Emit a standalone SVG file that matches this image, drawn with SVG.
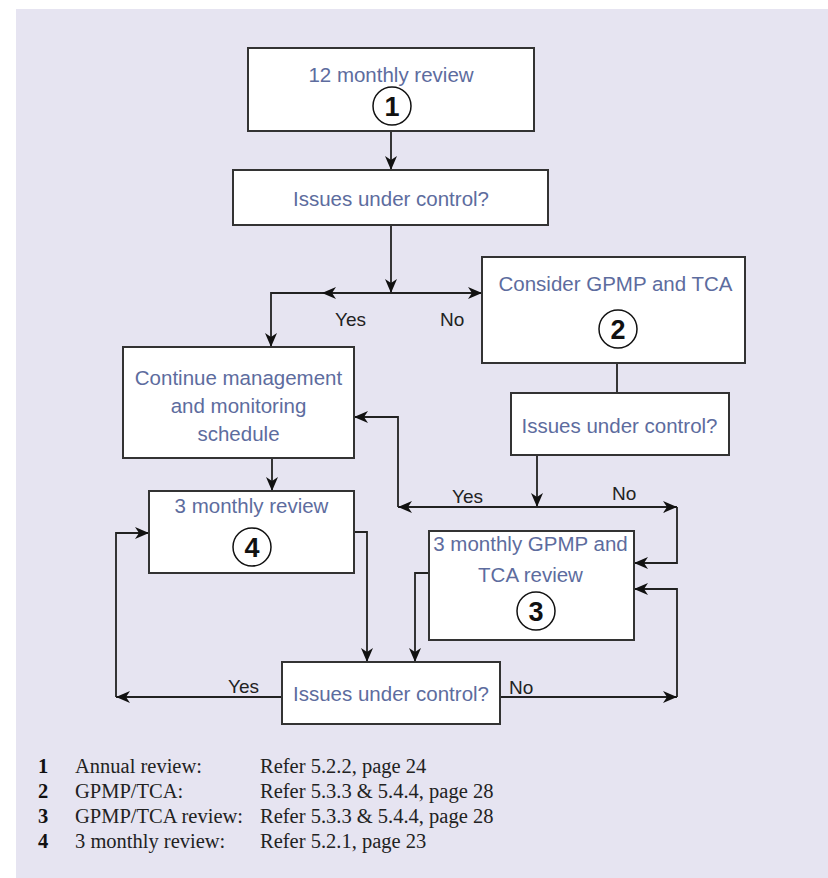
<svg xmlns="http://www.w3.org/2000/svg" width="828" height="878" viewBox="0 0 828 878">
<defs>
<style>
.box{fill:#fff;stroke:#333;stroke-width:2}
.t{font-family:"Liberation Sans",Arial,sans-serif;font-size:20.5px;fill:#5d6c9e;text-anchor:middle}
.num{font-family:"Liberation Sans",Arial,sans-serif;font-size:27px;font-weight:bold;fill:#111;text-anchor:middle}
.circ{fill:#fff;stroke:#111;stroke-width:1.5}
.lbl{font-family:"Liberation Sans",Arial,sans-serif;font-size:19px;fill:#222}
.c{fill:none;stroke:#222;stroke-width:1.8}
.a{fill:none;stroke:#222;stroke-width:1.8;marker-end:url(#ah)}
.lg{font-family:"Liberation Serif","Times New Roman",serif;font-size:20.5px;fill:#222}
.lgn{font-family:"Liberation Serif","Times New Roman",serif;font-size:20.5px;font-weight:bold;fill:#111}
</style>
<marker id="ah" markerUnits="userSpaceOnUse" markerWidth="16" markerHeight="14" refX="14" refY="6" orient="auto" viewBox="0 0 16 12">
<path d="M0,0 L14,6 L0,12 L4,6 z" fill="#111"/>
</marker>
</defs>
<rect x="16" y="9" width="812" height="869" fill="#e6e4f1"/>

<g id="connectors">
<path class="a" d="M391,131 V170"/>
<path class="a" d="M391,225 V293"/>
<path class="a" d="M391,293 H322"/>
<path class="a" d="M322,293 H271 V347"/>
<path class="a" d="M391,293 H482"/>
<path class="c" d="M617,363 V393"/>
<path class="a" d="M537,455 V507"/>
<path class="a" d="M537,507 H398"/>
<path class="a" d="M398,507 V417 H354"/>
<path class="a" d="M537,507 H677"/>
<path class="a" d="M677,507 V563 H634"/>
<path class="a" d="M272,458 V491"/>
<path class="a" d="M354,532 H367 V662"/>
<path class="a" d="M429,573 H415 V662"/>
<path class="a" d="M282,697 H116"/>
<path class="a" d="M116,697 V533 H149"/>
<path class="a" d="M500,697 H677"/>
<path class="a" d="M677,697 V589 H634"/>
<text class="lbl" x="335" y="326">Yes</text>
<text class="lbl" x="440" y="326">No</text>
<text class="lbl" x="452" y="503">Yes</text>
<text class="lbl" x="612" y="500">No</text>
<text class="lbl" x="228" y="693">Yes</text>
<text class="lbl" x="509" y="694">No</text>
</g>

<g id="n1">
<rect class="box" x="248" y="48" width="286" height="83"/>
<text class="t" x="391" y="82">12 monthly review</text>
<circle class="circ" cx="392" cy="106" r="19"/>
<text class="num" x="392" y="116">1</text>
</g>

<g id="n2">
<rect class="box" x="233" y="170" width="315" height="55"/>
<text class="t" x="391" y="206">Issues under control?</text>
</g>

<g id="n3">
<rect class="box" x="482" y="257" width="263" height="106"/>
<text class="t" x="615.5" y="291">Consider GPMP and TCA</text>
<circle class="circ" cx="618" cy="329" r="19"/>
<text class="num" x="618" y="339">2</text>
</g>

<g id="n4">
<rect class="box" x="123" y="347" width="231" height="111"/>
<text class="t" x="238.5" y="385">Continue management</text>
<text class="t" x="238.5" y="413">and monitoring</text>
<text class="t" x="238.5" y="441">schedule</text>
</g>

<g id="n5">
<rect class="box" x="511" y="393" width="218" height="62"/>
<text class="t" x="619.5" y="433">Issues under control?</text>
</g>

<g id="n6">
<rect class="box" x="149" y="491" width="205" height="82"/>
<text class="t" x="251.5" y="513">3 monthly review</text>
<circle class="circ" cx="252" cy="547" r="19"/>
<text class="num" x="252" y="557">4</text>
</g>

<g id="n7">
<rect class="box" x="429" y="531" width="205" height="109"/>
<text class="t" x="530.5" y="551">3 monthly GPMP and</text>
<text class="t" x="530.5" y="582">TCA review</text>
<circle class="circ" cx="536" cy="611" r="19"/>
<text class="num" x="536" y="621">3</text>
</g>

<g id="n8">
<rect class="box" x="282" y="662" width="218" height="62"/>
<text class="t" x="391" y="701">Issues under control?</text>
</g>

<g id="legend">
<text class="lgn" x="38" y="773">1</text>
<text class="lg" x="75" y="773">Annual review:</text>
<text class="lg" x="260" y="773">Refer 5.2.2, page 24</text>
<text class="lgn" x="38" y="798">2</text>
<text class="lg" x="75" y="798">GPMP/TCA:</text>
<text class="lg" x="260" y="798">Refer 5.3.3 &amp; 5.4.4, page 28</text>
<text class="lgn" x="38" y="823">3</text>
<text class="lg" x="75" y="823">GPMP/TCA review:</text>
<text class="lg" x="260" y="823">Refer 5.3.3 &amp; 5.4.4, page 28</text>
<text class="lgn" x="38" y="848">4</text>
<text class="lg" x="75" y="848">3 monthly review:</text>
<text class="lg" x="260" y="848">Refer 5.2.1, page 23</text>
</g>
</svg>
